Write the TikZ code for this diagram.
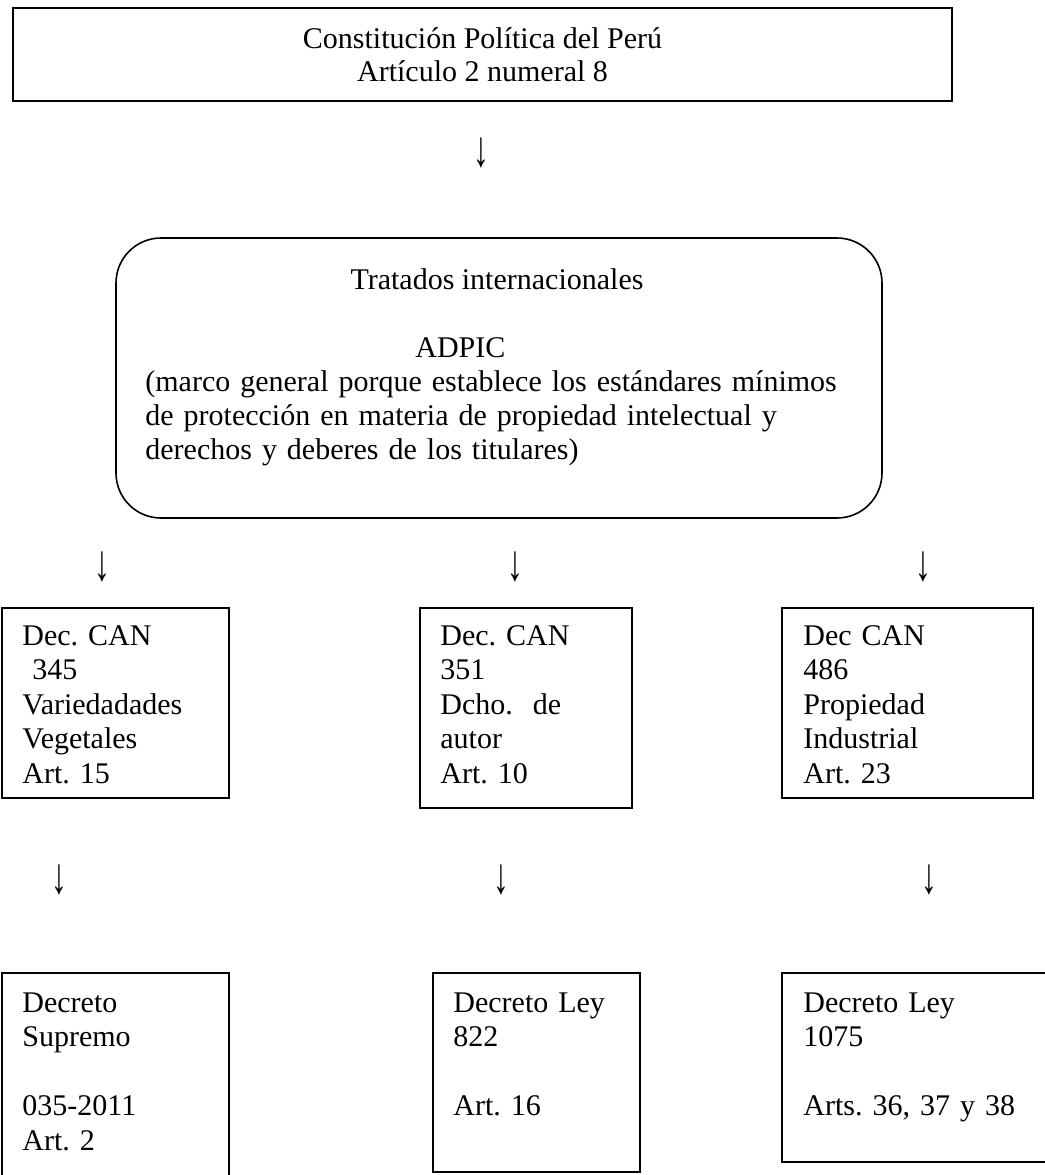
\documentclass[tikz,border=0pt]{standalone}
\usepackage{fontspec}
\usepackage{graphicx}
\setmainfont{Liberation Serif}
\usetikzlibrary{arrows}
\frenchspacing

\begin{document}
\begin{tikzpicture}[x=0.5pt, y=-0.5pt]
      \tikzstyle{every node}=[font=\fontsize{15}{17.25}\selectfont]
      \tikzstyle{caja}=[draw, line width=0.9pt, inner sep=0pt]
      \tikzstyle{txt}=[anchor=base west, align=left, inner sep=0pt, text width=125pt]
      \tikzstyle{flecha}=[inner sep=0pt]
      \clip (0,0) rectangle (1045,1175);

%% cajas
\node (cpp) at (482.5,54.5) [caja, minimum width=469.5pt, minimum height=46.5pt, align=center, font=\fontsize{15}{16.5}\selectfont] {Constitución Política del Perú\\Artículo 2 numeral 8};
  \node (tratados) at (499,378) [caja, line width=0.8pt, rounded corners=22.5pt, minimum width=383pt, minimum height=140pt] {};
  \node (can345) at (115.5,703) [caja, minimum width=113.5pt, minimum height=95pt] {};
  \node (can351) at (526,708) [caja, minimum width=106pt, minimum height=100pt] {};
  \node (can486) at (907.5,703) [caja, minimum width=125.5pt, minimum height=95pt] {};
  \node (ds035) at (115.5,1081.5) [caja, minimum width=113.5pt, minimum height=108.5pt] {};
  \node (dl822) at (536.5,1072.5) [caja, minimum width=103.5pt, minimum height=99.5pt] {};
  \node (dl1075) at (918.5,1067.5) [caja, minimum width=136.5pt, minimum height=94.5pt] {};

%% textos
\node (tratados_t) at (497,289) [anchor=base, inner sep=0pt] {Tratados internacionales};
  \node (adpic_t) at (415,357) [anchor=base west, inner sep=0pt] {ADPIC};
  \node (marco_t) at (145,391) [txt, text width=360pt, font=\fontsize{15}{17}\selectfont] {(marco general porque establece los estándares mínimos\\de protección en materia de propiedad intelectual y\\derechos y deberes de los titulares)};
  \node (can345_t) at (22,645) [txt] {Dec. CAN\\\ 345\\Variedadades\\Vegetales\\Art. 15};
  \node (can351_t) at (440,645) [txt] {Dec. CAN\\351\\Dcho.\ \ de\\autor\\Art. 10};
  \node (can486_t) at (803,645) [txt] {Dec CAN\\486\\Propiedad\\Industrial\\Art. 23};
  \node (ds035_t) at (22,1012) [txt] {Decreto\\Supremo\\[17.25pt]035-2011\\Art. 2};
  \node (dl822_t) at (453,1012) [txt] {Decreto Ley\\822\\[17.25pt]Art. 16};
  \node (dl1075_t) at (803,1012) [txt] {Decreto Ley\\1075\\[17.25pt]Arts. 36, 37 y 38};

%% flechas
\node (f_0) at (481,153) [flecha] {\scalebox{1.05}[1.7]{↓}};
  \node (f_1) at (102,567) [flecha] {\scalebox{1.05}[1.7]{↓}};
  \node (f_2) at (515,567) [flecha] {\scalebox{1.05}[1.7]{↓}};
  \node (f_3) at (923,567) [flecha] {\scalebox{1.05}[1.7]{↓}};
  \node (f_4) at (59,880) [flecha] {\scalebox{1.05}[1.7]{↓}};
  \node (f_5) at (501,880) [flecha] {\scalebox{1.05}[1.7]{↓}};
  \node (f_6) at (929,880) [flecha] {\scalebox{1.05}[1.7]{↓}};
%

    \end{tikzpicture}
\end{document}
